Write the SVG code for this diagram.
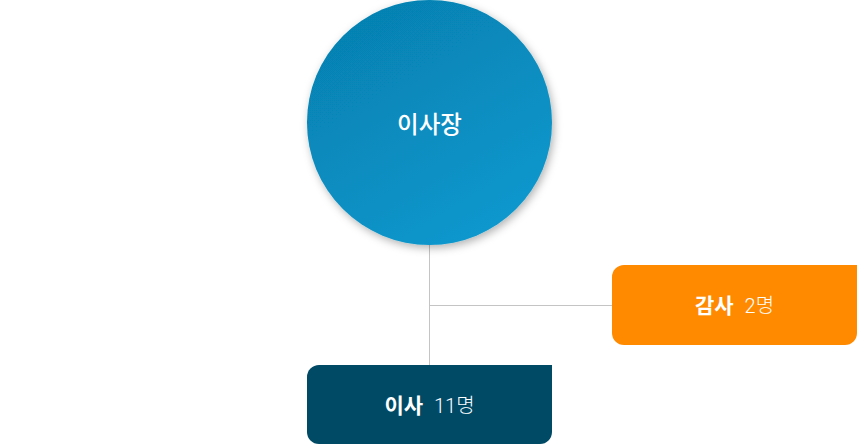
<svg xmlns="http://www.w3.org/2000/svg" width="857" height="445" viewBox="0 0 857 445">
<defs>
<linearGradient id="gBlue" x1="0.2" y1="0" x2="0.8" y2="1">
<stop offset="0" stop-color="#0680b0"/>
<stop offset="1" stop-color="#0999cf"/>
</linearGradient>
<filter id="shadow" x="-20%" y="-20%" width="140%" height="140%">
<feDropShadow dx="2" dy="3" stdDeviation="4" flood-color="#000" flood-opacity="0.3"/>
</filter>
</defs>
<style>
.lbl{font-family:"Roboto","Noto Sans CJK KR","Noto Sans",sans-serif;fill:#fff;text-anchor:middle}
.b{font-family:"Noto Sans CJK KR",sans-serif;font-weight:700;font-size:21px}
.r{font-weight:300;font-size:20px}
.conn{stroke:#c4c4c4;stroke-width:1;fill:none}
</style>
<rect width="857" height="445" fill="#fff"/>
<g id="connectors">
<line class="conn" x1="429.5" y1="245" x2="429.5" y2="365"/>
<line class="conn" x1="429.5" y1="305.5" x2="612" y2="305.5"/>
</g>
<g id="chairman">
<circle cx="429.5" cy="122.5" r="122.5" fill="url(#gBlue)" filter="url(#shadow)"/>
<text class="lbl" x="429.5" y="132.5" style="font-family:'Noto Sans CJK KR',sans-serif;font-size:23.5px;font-weight:500">이사장</text>
</g>
<g id="auditor">
<path d="M624,265 H857 V333 A12,12 0 0 1 845,345 H624 A12,12 0 0 1 612,333 V277 A12,12 0 0 1 624,265 Z" fill="#ff8a00"/>
<text class="lbl" x="734.5" y="313"><tspan class="b">감사</tspan><tspan class="r" dx="11">2명</tspan></text>
</g>
<g id="directors">
<path d="M319,365 H552 V432 A12,12 0 0 1 540,444 H319 A12,12 0 0 1 307,432 V377 A12,12 0 0 1 319,365 Z" fill="#004a66"/>
<text class="lbl" x="429.5" y="413"><tspan class="b">이사</tspan><tspan class="r" dx="11">11명</tspan></text>
</g>
</svg>
